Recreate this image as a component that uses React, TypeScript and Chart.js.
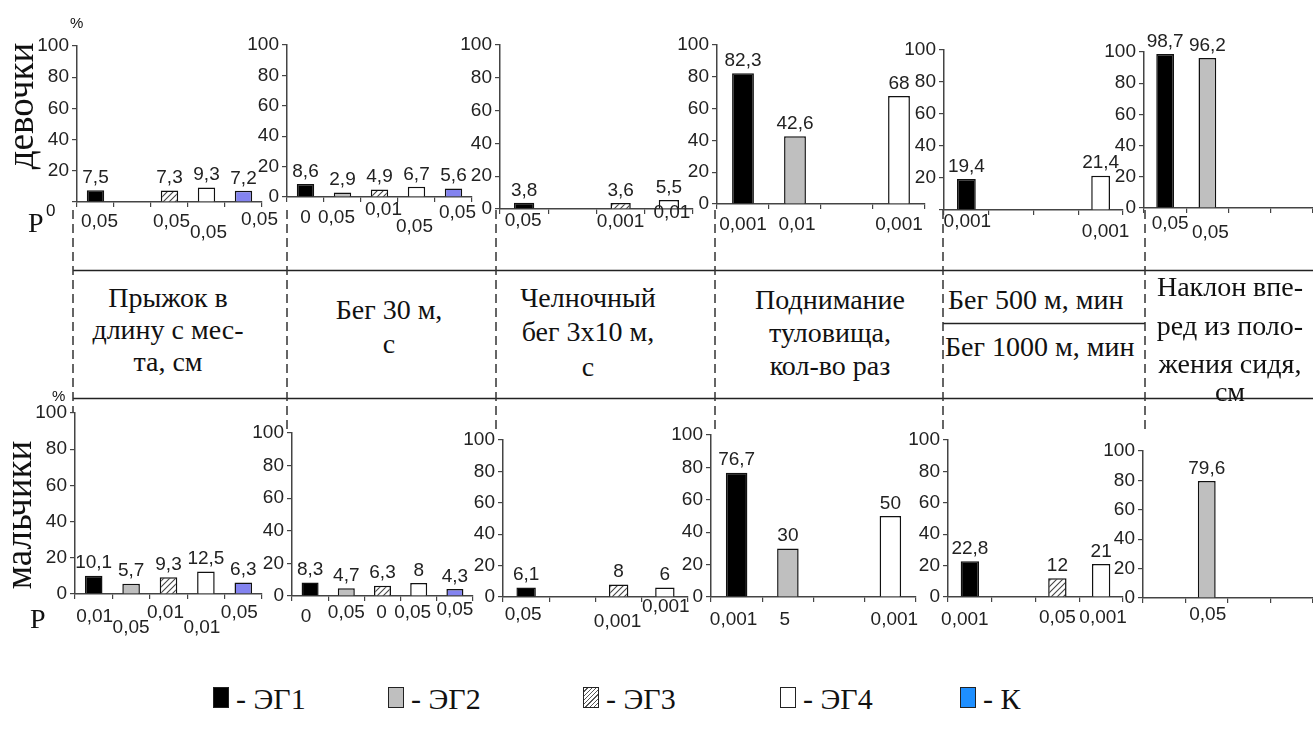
import React, { useEffect, useRef } from 'react';
import { Chart, registerables } from 'chart.js';

Chart.register(...registerables);

// ---------- DATA ----------
const groups5 = ['ЭГ1', 'ЭГ2', 'ЭГ3', 'ЭГ4', 'К'];
const groups4 = ['ЭГ1', 'ЭГ2', 'ЭГ3', 'ЭГ4'];
const yTickStep = 20;
const yMax = 100;

// girls (девочки)
const girlsJump = [7.5, null, 7.3, 9.3, 7.2];
const girlsJumpP = ['0,05', '', '0,05', '0,05', '0,05'];
const girlsRun30 = [8.6, 2.9, 4.9, 6.7, 5.6];
const girlsRun30P = ['0', '0,05', '0,01', '0,05', '0,05'];
const girlsShuttle = [3.8, null, 3.6, 5.5];
const girlsShuttleP = ['0,05', '', '0,001', '0,01'];
const girlsSitups = [82.3, 42.6, null, 68];
const girlsSitupsP = ['0,001', '0,01', '', '0,001'];
const girlsRun500 = [19.4, null, null, 21.4];
const girlsRun500P = ['0,001', '', '', '0,001'];
const girlsBend = [98.7, 96.2, null, null];
const girlsBendP = ['0,05', '0,05', '', ''];

// boys (мальчики)
const boysJump = [10.1, 5.7, 9.3, 12.5, 6.3];
const boysJumpP = ['0,01', '0,05', '0,01', '0,01', '0,05'];
const boysRun30 = [8.3, 4.7, 6.3, 8, 4.3];
const boysRun30P = ['0', '0,05', '0', '0,05', '0,05'];
const boysShuttle = [6.1, null, 8, 6];
const boysShuttleP = ['0,05', '', '0,001', '0,001'];
const boysSitups = [76.7, 30, null, 50];
const boysSitupsP = ['0,001', '5', '', '0,001'];
const boysRun1000 = [22.8, null, 12, 21];
const boysRun1000P = ['0,001', '', '0,05', '0,001'];
const boysBend = [null, 79.6, null, null];
const boysBendP = ['', '0,05', '', ''];

const testNames = [
  ['Прыжок в', 'длину с мес-', 'та, см'],
  ['Бег 30 м,', 'с'],
  ['Челночный', 'бег 3х10 м,', 'с'],
  ['Поднимание', 'туловища,', 'кол-во раз'],
  ['Бег 500 м, мин'],
  ['Бег 1000 м, мин'],
  ['Наклон впе-', 'ред из поло-', 'жения сидя,', 'см'],
];
const legendLabels = ['- ЭГ1', '- ЭГ2', '- ЭГ3', '- ЭГ4', '- К'];

// ---------- LAYOUT / STYLE ----------
const YW = 50;
const PT = 32;
const XH = 45;
const PR = 30;
const NUM_FONT_FAMILY = "'Liberation Sans', Arial, sans-serif";
const NUM_SIZE = 19;
const SERIF = "'Liberation Serif', 'DejaVu Serif', serif";

type Spec = {
  cats: string[];
  values: (number | null)[];
  p: string[];
  box: [number, number, number, number];
  pOff: [number, number][];
  hideZero?: boolean;
};

const specs: Spec[] = [
  { cats: groups5, values: girlsJump, p: girlsJumpP, box: [77, 262, 46, 202], pOff: [[4, 20], [0, 20], [2, 20], [2, 31], [16, 18]], hideZero: true },
  { cats: groups5, values: girlsRun30, p: girlsRun30P, box: [287, 472, 45, 197], pOff: [[0, 21], [-6, 21], [4, 13], [-2, 30], [4, 16]] },
  { cats: groups4, values: girlsShuttle, p: girlsShuttleP, box: [500, 693, 45, 209], pOff: [[-1, 12], [0, 0], [0, 13], [3, 4]] },
  { cats: groups4, values: girlsSitups, p: girlsSitupsP, box: [717, 925, 45, 204], pOff: [[0, 21], [2, 21], [0, 0], [0, 21]] },
  { cats: groups4, values: girlsRun500, p: girlsRun500P, box: [944, 1123, 50, 210], pOff: [[1, 12], [0, 0], [0, 0], [5, 22]], hideZero: true },
  { cats: groups4, values: girlsBend, p: girlsBendP, box: [1144, 1313, 52, 208], pOff: [[5, 16], [3, 25], [0, 0], [0, 0]] },
  { cats: groups5, values: boysJump, p: boysJumpP, box: [75, 262, 413, 594], pOff: [[1, 23], [0, 34], [-3, 19], [-4, 34], [-4, 19]] },
  { cats: groups5, values: boysRun30, p: boysRun30P, box: [292, 473, 433, 596], pOff: [[-4, 21], [0, 17], [-1, 17], [-6, 17], [0, 14]] },
  { cats: groups4, values: boysShuttle, p: boysShuttleP, box: [503, 688, 440, 597], pOff: [[-3, 18], [0, 0], [-1, 25], [1, 10]] },
  { cats: groups4, values: boysSitups, p: boysSitupsP, box: [711, 916, 435, 597], pOff: [[-3, 23], [-3, 23], [0, 0], [4, 23]] },
  { cats: groups4, values: boysRun1000, p: boysRun1000P, box: [948, 1123, 440, 597], pOff: [[-5, 23], [0, 0], [0, 21], [2, 21]] },
  { cats: groups4, values: boysBend, p: boysBendP, box: [1143, 1313, 451, 598], pOff: [[0, 0], [1, 17], [0, 0], [0, 0]] },
];

function makeHatch(): CanvasPattern | string {
  const c = document.createElement('canvas');
  c.width = 6;
  c.height = 6;
  const g = c.getContext('2d');
  if (!g) return '#ddd';
  g.fillStyle = '#ffffff';
  g.fillRect(0, 0, 6, 6);
  g.strokeStyle = '#444';
  g.lineWidth = 1.1;
  g.beginPath();
  g.moveTo(0, 6); g.lineTo(6, 0);
  g.moveTo(-1, 1); g.lineTo(1, -1);
  g.moveTo(5, 7); g.lineTo(7, 5);
  g.stroke();
  return g.createPattern(c, 'repeat') || '#ddd';
}

const fmt = (v: number) => String(v).replace('.', ',');

function Panel({ spec }: { spec: Spec }) {
  const ref = useRef<HTMLCanvasElement>(null);
  useEffect(() => {
    const hatch = makeHatch();
    const fills: Record<string, any> = {
      'ЭГ1': '#000000',
      'ЭГ2': '#bfbfbf',
      'ЭГ3': hatch,
      'ЭГ4': '#ffffff',
      'К': '#8383f0',
    };
    const annotate = {
      id: 'annotate',
      afterDatasetsDraw(chart: any) {
        const ctx = chart.ctx;
        const meta = chart.getDatasetMeta(0);
        const xs = chart.scales.x;
        const bottom = chart.chartArea.bottom;
        ctx.save();
        ctx.font = `${NUM_SIZE}px ${NUM_FONT_FAMILY}`;
        ctx.fillStyle = '#222';
        ctx.textAlign = 'center';
        meta.data.forEach((bar: any, i: number) => {
          const v = spec.values[i];
          if (v == null) return;
          ctx.textBaseline = 'bottom';
          ctx.fillText(fmt(v), bar.x, bar.y - 3);
        });
        spec.p.forEach((t, i) => {
          if (!t) return;
          const [dx, dy] = spec.pOff[i];
          ctx.textBaseline = 'middle';
          ctx.fillText(t, xs.getPixelForValue(i) + dx, bottom + dy);
        });
        ctx.restore();
      },
    };
    const chart = new Chart(ref.current as HTMLCanvasElement, {
      type: 'bar',
      data: {
        labels: spec.cats,
        datasets: [
          {
            data: spec.values as any,
            backgroundColor: spec.cats.map((c) => fills[c]),
            borderColor: '#111',
            borderWidth: 1.5,
            barPercentage: spec.cats.length === 5 ? 0.47 : 0.42,
            categoryPercentage: 1,
          },
        ],
      },
      options: {
        responsive: false,
        maintainAspectRatio: false,
        animation: false,
        layout: { padding: { top: PT, right: PR, left: 0, bottom: 0 } },
        plugins: { legend: { display: false }, tooltip: { enabled: false } },
        scales: {
          x: {
            ticks: { display: false },
            grid: { display: true, drawOnChartArea: false, drawTicks: true, tickLength: 5, color: '#444', lineWidth: 1.2, offset: true },
            border: { display: true, color: '#444', width: 1.5 },
            afterFit: (s: any) => { s.height = XH; },
          },
          y: {
            min: 0,
            max: yMax,
            ticks: {
              stepSize: yTickStep,
              font: { family: NUM_FONT_FAMILY, size: NUM_SIZE },
              color: '#222',
              padding: 3,
              callback: (v: any) => (spec.hideZero && v === 0 ? '' : String(v)),
            },
            grid: { drawOnChartArea: false, drawTicks: true, tickLength: 5, color: '#444', lineWidth: 1.2 },
            border: { display: true, color: '#444', width: 1.5 },
            afterFit: (s: any) => { s.width = YW; },
          },
        },
      } as any,
      plugins: [annotate],
    });
    return () => chart.destroy();
  }, []);
  const [L, R, T, B] = spec.box;
  return (
    <canvas
      ref={ref}
      width={R - L + YW + PR}
      height={B - T + PT + XH}
      style={{ position: 'absolute', left: L - YW, top: T - PT }}
    />
  );
}

function Txt({ x, y, text, size = 28, align = 'center', font = SERIF }: { x: number; y: number; text: string; size?: number; align?: 'center' | 'left'; font?: string }) {
  return (
    <div
      style={{
        position: 'absolute',
        left: x,
        top: y,
        transform: align === 'center' ? 'translate(-50%, -50%)' : 'translate(0, -50%)',
        fontFamily: font,
        fontSize: size,
        lineHeight: 1,
        whiteSpace: 'nowrap',
        color: '#111',
      }}
    >
      {text}
    </div>
  );
}

const textPlacement: { x: number; ys: number[]; align?: 'center' | 'left' }[] = [
  { x: 168, ys: [298, 330, 362] },
  { x: 389, ys: [310, 344] },
  { x: 588, ys: [298, 332, 367] },
  { x: 830, ys: [300, 333, 366] },
  { x: 948, ys: [300], align: 'left' },
  { x: 945, ys: [347], align: 'left' },
  { x: 1230, ys: [287, 326, 364, 392] },
];

const legendPlacement = [213, 388, 583, 780, 960];

export default function App() {
  const swatch = (i: number): React.CSSProperties => {
    const base: React.CSSProperties = {
      position: 'absolute',
      left: legendPlacement[i],
      top: 687,
      width: 16,
      height: 21,
      border: '1px solid #222',
      boxSizing: 'border-box',
    };
    if (i === 0) return { ...base, background: '#000' };
    if (i === 1) return { ...base, background: '#bfbfbf' };
    if (i === 2) return { ...base, background: 'repeating-linear-gradient(135deg, #fff 0px, #fff 2px, #555 2px, #555 3px)' };
    if (i === 3) return { ...base, background: '#fff' };
    return { ...base, background: '#1e8fff' };
  };
  const dashedX = [73, 287, 496, 715, 943, 1145];
  return (
    <div style={{ position: 'absolute', left: 0, top: 0, width: 1313, height: 733, overflow: 'hidden', background: '#fff' }}>
      <svg width={1313} height={733} style={{ position: 'absolute', left: 0, top: 0 }}>
        <line x1={73} x2={1313} y1={270.5} y2={270.5} stroke="#222" strokeWidth={1.5} />
        <line x1={73} x2={1313} y1={398.5} y2={398.5} stroke="#222" strokeWidth={1.5} />
        <line x1={943} x2={1145} y1={323.5} y2={323.5} stroke="#222" strokeWidth={1.3} />
        {dashedX.map((x, i) => (
          <line key={i} x1={x} x2={x} y1={210} y2={i === 0 ? 412 : 432} stroke="#333" strokeWidth={1.5} strokeDasharray="9 5" />
        ))}
      </svg>
      {specs.map((s, i) => (
        <Panel key={i} spec={s} />
      ))}
      {testNames.map((lines, i) =>
        lines.map((t, j) => (
          <Txt key={`${i}-${j}`} x={textPlacement[i].x} y={textPlacement[i].ys[j]} text={t} align={textPlacement[i].align || 'center'} />
        ))
      )}
      {/* row labels */}
      <div style={{ position: 'absolute', left: 20, top: 106, transform: 'translate(-50%, -50%) rotate(-90deg)', fontFamily: SERIF, fontSize: 37, lineHeight: 1, whiteSpace: 'nowrap', color: '#111' }}>девочки</div>
      <div style={{ position: 'absolute', left: 18, top: 515, transform: 'translate(-50%, -50%) rotate(-90deg)', fontFamily: SERIF, fontSize: 37, lineHeight: 1, whiteSpace: 'nowrap', color: '#111' }}>мальчики</div>
      <Txt x={70} y={22} text="%" size={15} align="left" font={NUM_FONT_FAMILY} />
      <Txt x={52} y={395} text="%" size={15} align="left" font={NUM_FONT_FAMILY} />
      <Txt x={28} y={223} text="P" size={28} align="left" />
      <Txt x={46} y={210} text="0" size={17} align="left" font={NUM_FONT_FAMILY} />
      <Txt x={30} y={619} text="P" size={28} align="left" />
      {/* legend */}
      {legendLabels.map((t, i) => (
        <React.Fragment key={i}>
          <div style={swatch(i)} />
          <Txt x={legendPlacement[i] + 23} y={699} text={t} size={30} align="left" />
        </React.Fragment>
      ))}
    </div>
  );
}
